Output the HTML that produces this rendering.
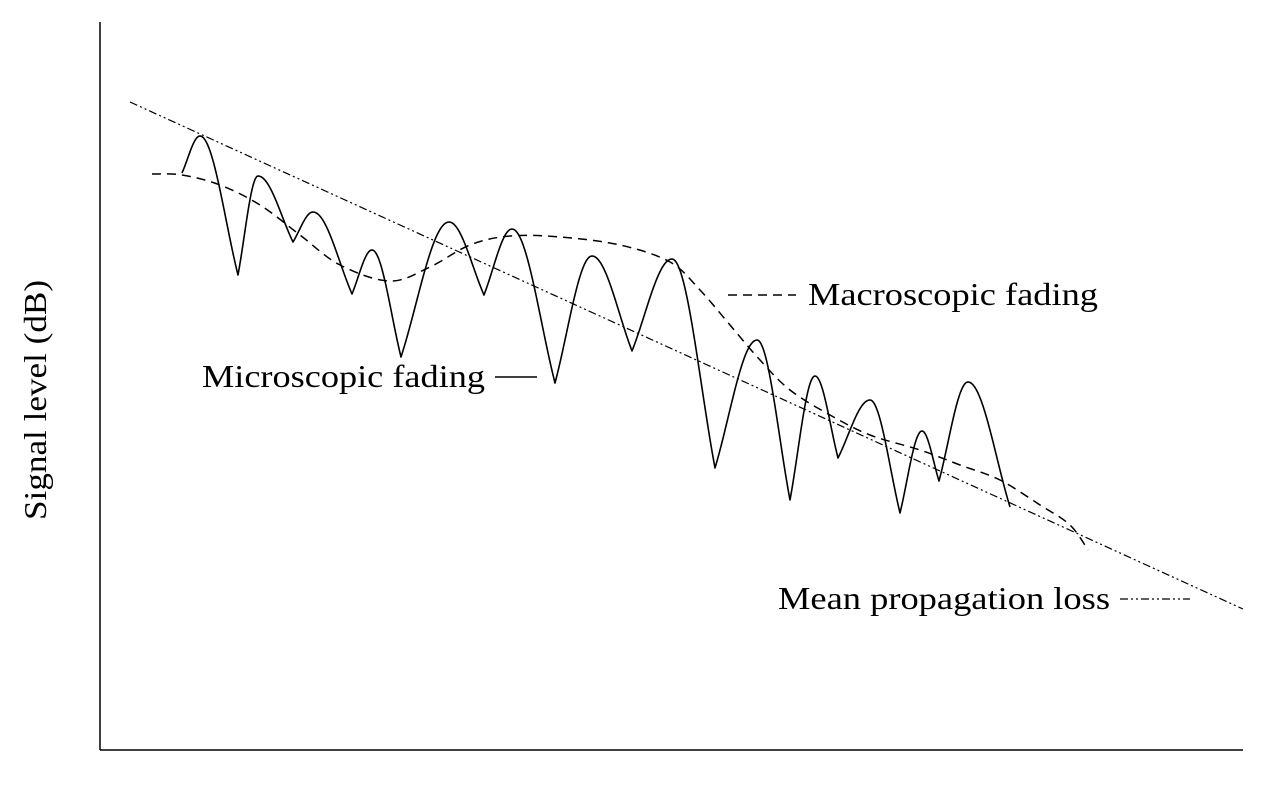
<!DOCTYPE html>
<html><head><meta charset="utf-8"><style>
html,body{margin:0;padding:0;background:#fff;}
svg{display:block;}
text{font-family:"Liberation Serif",serif;font-size:32px;fill:#000;}
</style></head><body>
<svg id="chart" width="1278" height="792" viewBox="0 0 1278 792">
<line x1="100" y1="22" x2="100" y2="750" stroke="#000" stroke-width="1.5"/>
<line x1="100" y1="750" x2="1243" y2="750" stroke="#000" stroke-width="1.5"/>
<text transform="translate(46,400) rotate(-90)" text-anchor="middle" textLength="240" lengthAdjust="spacingAndGlyphs">Signal level (dB)</text>
<g id="series"></g>
<g>
<line x1="728" y1="295" x2="796" y2="295" stroke="#000" stroke-width="1.5" stroke-dasharray="9,6"/>
<text x="808" y="305" textLength="290" lengthAdjust="spacingAndGlyphs">Macroscopic fading</text></g>
<g>
<text x="202" y="387" textLength="283" lengthAdjust="spacingAndGlyphs">Microscopic fading</text>
<line x1="495" y1="377" x2="537" y2="377" stroke="#000" stroke-width="1.5"/></g>
<g>
<text x="778" y="609" textLength="332" lengthAdjust="spacingAndGlyphs">Mean propagation loss</text>
<line x1="1120" y1="599" x2="1190" y2="599" stroke="#000" stroke-width="1.2" stroke-dasharray="8,3,2,3,2,3"/></g>
</svg>
<script>
// distance units (0..1143) and level units (0..728); alternating peak/trough extrema
const microDist=[82,100,138,158,193,213,252,272,301,349,384,412,455,492,532,572,615,657,690,715,738,770,800,822,839,868,910];
const microLevel=[577,614,475,574,508,538,456,500,393,528,455,521,367,494,399,491,282,410,250,374,292,350,237,319,269,368,243];
const macroDist=[52,82,120,160,200,240,290,330,370,410,460,520,570,600,630,660,690,730,770,820,860,900,940,970,988];
const macroLevel=[576,575,565,545,515,485,469,483,505,514,513,505,488,460,425,390,360,335,315,300,285,270,245,225,200];
const meanDist=[30,1143];
const meanLevel=[648,141];
const sx=d=>100+d, sy=v=>750-v;
function smooth(xs,ys){
  const p=xs.map((x,i)=>[sx(x),sy(ys[i])]);
  let d=`M${p[0][0]},${p[0][1]}`;
  for(let i=0;i<p.length-1;i++){
    const p0=p[i-1]||p[i],p1=p[i],p2=p[i+1],p3=p[i+2]||p2;
    const c1=[p1[0]+(p2[0]-p0[0])/6,p1[1]+(p2[1]-p0[1])/6];
    const c2=[p2[0]-(p3[0]-p1[0])/6,p2[1]-(p3[1]-p1[1])/6];
    d+=` C${c1[0]},${c1[1]} ${c2[0]},${c2[1]} ${p2[0]},${p2[1]}`;
  }
  return d;
}
// rounded peaks, narrow troughs
function shape(t){ // t=0 at peak, 1 at trough
  const a=Math.cos(t*Math.PI/2), b=(1+Math.cos(t*Math.PI))/2;
  return 0.7*a+0.3*b;
}
function fading(xs,ys){
  let d=`M${sx(xs[0])},${sy(ys[0])}`;
  for(let i=0;i<xs.length-1;i++){
    const a=ys[i],b=ys[i+1];
    const up=b>a, P=Math.max(a,b), T=Math.min(a,b);
    for(let k=1;k<=30;k++){
      const t=k/30;
      const x=xs[i]+(xs[i+1]-xs[i])*t;
      const h=up?shape(1-t):shape(t);
      d+=` L${sx(x).toFixed(2)},${sy(T+(P-T)*h).toFixed(2)}`;
    }
  }
  return d;
}
const g=document.getElementById('series');
const ns='http://www.w3.org/2000/svg';
function add(d,dash,w){
  const el=document.createElementNS(ns,'path');
  el.setAttribute('d',d);el.setAttribute('fill','none');el.setAttribute('stroke','#000');
  el.setAttribute('stroke-width',w);el.setAttribute('stroke-linejoin','round');
  if(dash)el.setAttribute('stroke-dasharray',dash);
  g.appendChild(el);return el;
}
const mean=add(`M${sx(meanDist[0])},${sy(meanLevel[0])} L${sx(meanDist[1])},${sy(meanLevel[1])}`,'8,3,2,3,2,3',1.2);


const macro=add(smooth(macroDist,macroLevel),'9,6',1.5);


const micro=add(fading(microDist,microLevel),null,1.6);


</script>
</body></html>
